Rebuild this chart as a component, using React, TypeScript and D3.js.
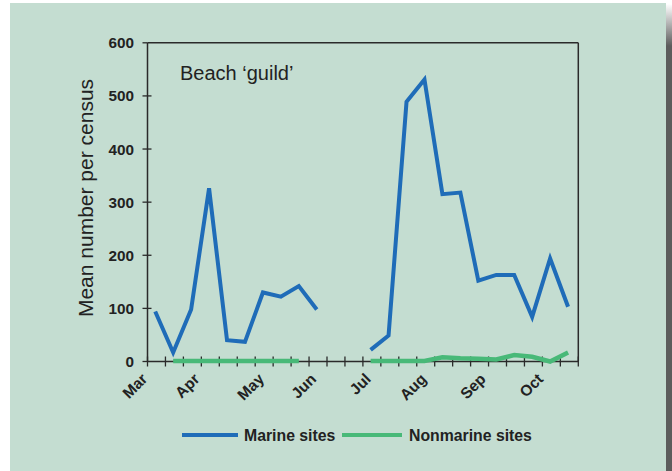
import React from "react";
import * as d3 from "d3";

const marine: (number | null)[] = [94, 17, 98, 326, 40, 37, 130, 122, 142, 98, null, null, 22, 49, 489, 531, 315, 318, 152, 163, 163, 84, 194, 103];
const nonmarine: (number | null)[] = [null, 1, 1, 1, 1, 1, 1, 1, 1, null, null, null, 1, 1, 1, 1, 8, 6, 5, 4, 12, 9, 0, 17];
const months = ["Mar", "Apr", "May", "Jun", "Jul", "Aug", "Sep", "Oct"];
const monthPos = [0.05, 2.95, 6.55, 9.45, 12.5, 15.6, 18.9, 22.1];
const yTicks = [0, 100, 200, 300, 400, 500, 600];
const nCensusTicks = 24;
const censusOffset = 0.43;

const BLUE = "#1f6cb8";
const GREEN = "#48b978";
const AXIS = "#2a2a2a";
const FONT = "'Liberation Sans', Arial, sans-serif";

export default function App() {
  const x = d3.scaleLinear().domain([0, nCensusTicks]).range([147.5, 578.3]);
  const y = d3.scaleLinear().domain([0, 600]).range([361.5, 42.8]);
  const line = d3
    .line<number | null>()
    .defined((d) => d !== null)
    .x((_, i) => x(i + censusOffset))
    .y((d) => y(d as number))
    .curve(d3.curveLinear);
  const ticks = d3.range(0, nCensusTicks + 1);

  return (
    <svg width={672} height={471} style={{ position: "absolute", left: 0, top: 0 }}>
      <defs>
        <linearGradient id="shadow" x1="0" y1="0" x2="0" y2="1">
          <stop offset="0" stopColor="#ffffff" />
          <stop offset="0.09" stopColor="#5c5c5c" />
          <stop offset="1" stopColor="#5c5c5c" />
        </linearGradient>
      </defs>
      <rect x={0} y={0} width={672} height={471} fill="#ffffff" />
      <rect x={666} y={4} width={6} height={467} fill="url(#shadow)" />
      <rect x={10} y={3} width={656} height={468} fill="#c4ddd1" />

      {/* frame */}
      <line x1={x(0)} x2={x(0)} y1={y(600)} y2={y(0)} stroke={AXIS} strokeWidth={1.5} />
      <line x1={x(nCensusTicks)} x2={x(nCensusTicks)} y1={y(600)} y2={y(0)} stroke={AXIS} strokeWidth={1.5} />
      <line x1={x(0)} x2={x(nCensusTicks)} y1={y(600)} y2={y(600)} stroke={AXIS} strokeWidth={1.5} />
      <line x1={x(0)} x2={x(nCensusTicks)} y1={y(0)} y2={y(0)} stroke={AXIS} strokeWidth={1.5} />

      {/* y ticks */}
      {yTicks.map((t) => (
        <g key={t}>
          <line x1={x(0) - 5} x2={x(0) + (t === 600 || t === 0 ? 0 : 4)} y1={y(t)} y2={y(t)} stroke={AXIS} strokeWidth={1.3} />
          <text x={134} y={y(t)} dy="0.36em" textAnchor="end" fontFamily={FONT} fontWeight="bold" fontSize={15.3} fill="#222">
            {t}
          </text>
        </g>
      ))}

      {/* x ticks */}
      {ticks.map((t) => (
        <line key={t} x1={x(t)} x2={x(t)} y1={y(0) - 5} y2={y(0) + 5} stroke={AXIS} strokeWidth={1.3} />
      ))}
      {months.map((m, i) => (
        <text
          key={m}
          transform={`translate(${x(monthPos[i])},${380}) rotate(-45)`}
          textAnchor="end"
          fontFamily={FONT}
          fontWeight="bold"
          fontSize={15.5}
          fill="#222"
        >
          {m}
        </text>
      ))}

      {/* y label */}
      <text
        transform={`translate(93,198) rotate(-90)`}
        textAnchor="middle"
        fontFamily={FONT}
        fontSize={21}
        fill="#222"
      >
        Mean number per census
      </text>

      {/* title */}
      <text x={180} y={80} fontFamily={FONT} fontSize={20} fill="#222">
        Beach ‘guild’
      </text>

      {/* series */}
      <path d={line(nonmarine) || ""} fill="none" stroke={GREEN} strokeWidth={4.5} strokeLinejoin="miter" />
      <path d={line(marine) || ""} fill="none" stroke={BLUE} strokeWidth={4} strokeLinejoin="miter" />

      {/* legend */}
      <line x1={182} x2={238} y1={435} y2={435} stroke={BLUE} strokeWidth={4} />
      <text x={244} y={440.5} fontFamily={FONT} fontWeight="bold" fontSize={15.8} fill="#222">
        Marine sites
      </text>
      <line x1={342} x2={402} y1={435} y2={435} stroke={GREEN} strokeWidth={4} />
      <text x={409} y={440.5} fontFamily={FONT} fontWeight="bold" fontSize={15.8} fill="#222">
        Nonmarine sites
      </text>
    </svg>
  );
}
